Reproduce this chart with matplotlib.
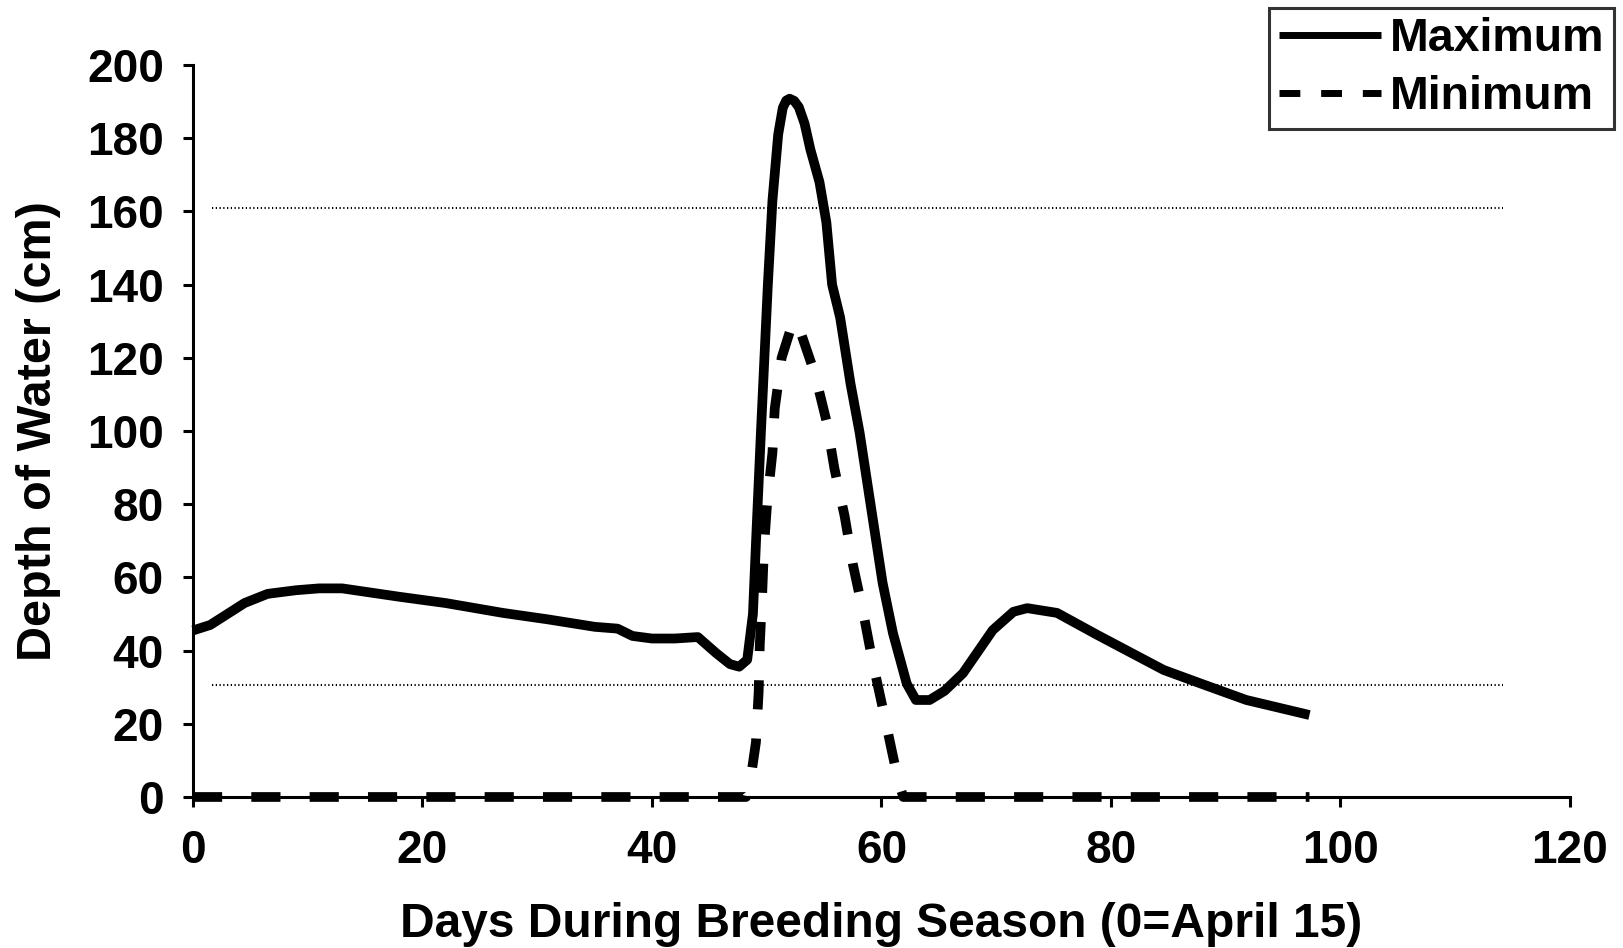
import matplotlib
matplotlib.use("Agg")
import matplotlib.pyplot as plt

# --- dados ---
dias_max = [0, 1.5, 3, 4.5, 6.5, 9, 11, 13, 18, 22, 27, 31, 35, 37, 38.3, 40, 42, 44,
            45.6, 46.8, 47.6, 48.3, 48.8, 49.1, 49.5, 50.1, 50.5, 51.0, 51.4, 51.7,
            52.0, 52.4, 52.8, 53.3, 53.8, 54.6, 55.2, 55.7, 56.4, 57.3, 58.1, 59.0,
            60.1, 61.0, 62.2, 63.0, 64.2, 65.5, 67.1, 69.7, 71.5, 72.7, 75.3, 78.8,
            84.6, 88, 91.8, 97.3]
prof_max = [45.5, 47, 50, 53, 55.5, 56.5, 57, 57, 54.7, 53, 50.3, 48.5, 46.5, 46, 44,
            43.3, 43.3, 43.7, 39.3, 36.3, 35.6, 37.5, 50, 72, 100, 140, 163, 181,
            188.3, 190.3, 190.8, 190.2, 188.5, 184, 177, 168, 157, 140, 131, 113, 99.5,
            81, 58.5, 44.8, 31, 26.5, 26.5, 29, 33.8, 45.6, 50.6, 51.6, 50.3, 44.3,
            34.7, 30.8, 26.5, 22.4]

dias_min = [0, 48.2, 48.6, 49.06, 49.3, 49.4, 49.6, 49.76, 50.05, 50.5, 50.7, 51.3,
            52.3, 52.9, 54.2, 55.2, 55.9, 56.8, 57.5, 58.4, 59.2, 60.1, 61.0, 61.5,
            61.9, 97.3]
prof_min = [0, 0, 5, 14.9, 28.8, 41.8, 54.9, 67.9, 80.9, 94.1, 106.1, 120, 130,
            127.5, 115.6, 102.8, 89.8, 76.6, 63.7, 50.6, 37.4, 24.5, 11.2, 4, 0, 0]

limites = [161, 30.5]
inicio_lim, fim_lim = 1.7, 114.2

plt.rcParams['font.family'] = ['Liberation Sans', 'DejaVu Sans']
plt.rcParams['font.weight'] = 'bold'

fig = plt.figure(figsize=(16.23, 9.48), dpi=100)
ax = fig.add_axes([0.1189, 0.1593, 0.8484, 0.7721])

for y in limites:
    ax.plot([inicio_lim, fim_lim], [y, y], color='black', linestyle=(0, (0.6, 1.2)),
            linewidth=1.5, zorder=1)

ax.plot(dias_max, prof_max, color='black', linewidth=7, solid_joinstyle='round',
        solid_capstyle='butt', label='Maximum', clip_on=False, zorder=3)
ax.plot(dias_min, prof_min, color='black', linewidth=7, linestyle=(0, (3.0, 3.0)),
        dash_capstyle='butt', label='Minimum', clip_on=False, zorder=3)

ax.set_xlim(0, 120)
ax.set_ylim(0, 200)
ax.set_xticks(range(0, 121, 20))
ax.set_yticks(range(0, 201, 20))

for s in ['top', 'right']:
    ax.spines[s].set_visible(False)
for s in ['left', 'bottom']:
    ax.spines[s].set_linewidth(2.2)

ax.tick_params(axis='both', direction='out', length=7, width=2.2, labelsize=33)
ax.tick_params(axis='x', pad=16)
ax.tick_params(axis='y', pad=14)
for lab in ax.get_xticklabels() + ax.get_yticklabels():
    lab.set_fontweight('bold')

ax.set_xlabel("Days During Breeding Season (0=April 15)", fontsize=34.5, fontweight='bold',
              labelpad=21)
ax.set_ylabel("Depth of Water (cm)", fontsize=35, fontweight='bold', labelpad=19)

leg = fig.legend(loc='upper right', bbox_to_anchor=(0.9945, 0.9916),
                 bbox_transform=fig.transFigure, fontsize=33.5, frameon=True,
                 fancybox=False, edgecolor='black', borderaxespad=0,
                 handlelength=2.2, handletextpad=0.2, borderpad=0.2,
                 labelspacing=0.3)
leg.get_frame().set_linewidth(2.2)
for t in leg.get_texts():
    t.set_fontweight('bold')
for h in leg.get_lines():
    h.set_linewidth(5)

fig.savefig("out.png", dpi=100)
